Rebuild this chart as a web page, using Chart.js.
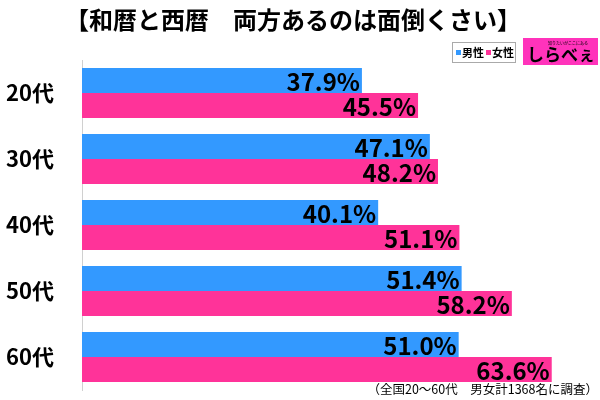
<!DOCTYPE html>
<html>
<head>
<meta charset="utf-8">
<script src="https://cdn.jsdelivr.net/npm/chart.js@4"></script>
<style>
  html, body { margin: 0; padding: 0; background: #fff; }
  #wrap { width: 600px; height: 400px; }
</style>
</head>
<body>
<div id="wrap"><canvas id="wareki"></canvas></div>
<script>
const categories = ['20代', '30代', '40代', '50代', '60代'];
const maleValues = [37.9, 47.1, 40.1, 51.4, 51.0];
const femaleValues = [45.5, 48.2, 51.1, 58.2, 63.6];
const seriesNames = ['男性', '女性'];

const FONT = '"Noto Sans CJK JP", "Noto Sans", sans-serif';
const BLUE = '#3399ff';
const PINK = '#ff3399';

// Titles, legend box, logo, footnote and value labels
const decor = {
    id: 'decor',
    afterDatasetsDraw(chart) {
        const ctx = chart.ctx;
        ctx.save();

        // value labels at the end of each bar
        ctx.fillStyle = '#000';
        ctx.font = 'bold 24px ' + FONT;
        ctx.textAlign = 'right';
        ctx.textBaseline = 'middle';
        chart.data.datasets.forEach((ds, i) => {
            chart.getDatasetMeta(i).data.forEach((bar, j) => {
                ctx.fillText(ds.data[j].toFixed(1) + '%', bar.x - 2, bar.y + 1);
            });
        });

        // title
        ctx.textAlign = 'center';
        ctx.font = 'bold 24px ' + FONT;
        ctx.fillText('【和暦と西暦　両方あるのは面倒くさい】', 293, 20);

        // legend box
        ctx.fillStyle = '#fff';
        ctx.fillRect(452, 42, 63, 20);
        ctx.strokeStyle = '#aaa';
        ctx.lineWidth = 1;
        ctx.strokeRect(452.5, 42.5, 63, 20);
        ctx.font = 'bold 11px ' + FONT;
        ctx.textAlign = 'left';
        ctx.fillStyle = BLUE;
        ctx.fillRect(456, 50, 5, 5);
        ctx.fillStyle = '#000';
        ctx.fillText(seriesNames[0], 462, 53);
        ctx.fillStyle = PINK;
        ctx.fillRect(486, 50, 5, 5);
        ctx.fillStyle = '#000';
        ctx.fillText(seriesNames[1], 492, 53);

        // logo
        ctx.fillStyle = '#ff33bb';
        ctx.fillRect(523, 38, 75, 27);
        ctx.fillStyle = '#000';
        ctx.font = 'bold 17px ' + FONT;
        ctx.textAlign = 'center';
        ctx.fillText('しらべぇ', 561, 55);
        ctx.font = '4px ' + FONT;
        ctx.fillText('知りたいがここにある', 568, 43);

        // footnote
        ctx.font = '12.5px ' + FONT;
        ctx.textAlign = 'right';
        ctx.fillText('（全国20～60代　男女計1368名に調査）', 598, 389);

        ctx.restore();
    }
};

new Chart(document.getElementById('wareki'), {
    type: 'bar',
    data: {
        labels: categories,
        datasets: [
            { label: seriesNames[0], data: maleValues, backgroundColor: BLUE },
            { label: seriesNames[1], data: femaleValues, backgroundColor: PINK }
        ]
    },
    options: {
        indexAxis: 'y',
        responsive: true,
        maintainAspectRatio: false,
        animation: false,
        layout: { padding: { top: 60, bottom: 10, right: 1, left: 0 } },
        datasets: { bar: { barPercentage: 1, categoryPercentage: 0.76 } },
        plugins: {
            legend: { display: false },
            tooltip: { enabled: false },
            title: { display: false }
        },
        scales: {
            x: { display: false, min: 0, max: 70 },
            y: {
                grid: { display: false },
                border: { display: true, color: '#d0d0d0', width: 1 },
                ticks: { color: '#000', padding: 20, font: { family: FONT, size: 22, weight: 'bold' } },
                afterFit: s => { s.width = 82; s.paddingTop = 0; s.paddingBottom = 0; }
            }
        }
    },
    plugins: [decor]
});
</script>
</body>
</html>
